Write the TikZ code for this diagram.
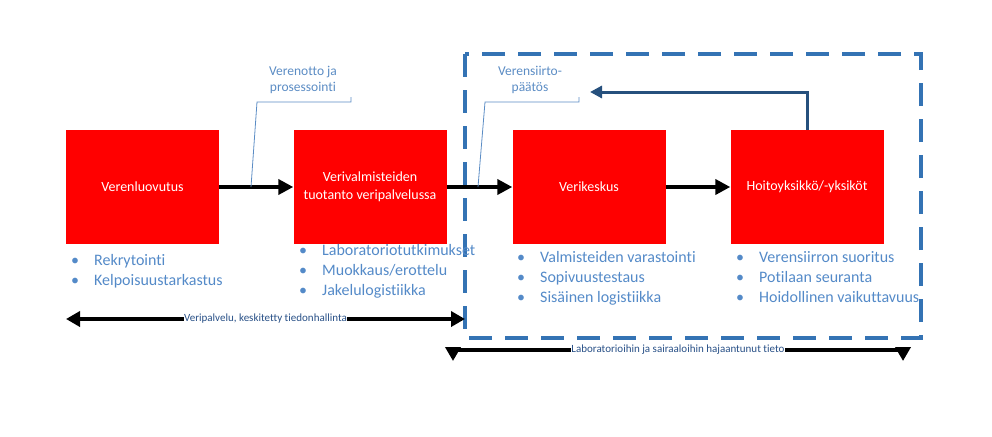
\documentclass[tikz,border=0pt]{standalone}
\usepackage{fontspec}
\setmainfont{Carlito}[Ligatures={NoCommon}]
\usetikzlibrary{arrows.meta}
\definecolor{boxred}{RGB}{255,0,0}
\definecolor{listblue}{RGB}{84,138,200}
\definecolor{calloutblue}{RGB}{91,140,196}
\definecolor{dashblue}{RGB}{52,115,180}
\definecolor{fbblue}{RGB}{38,80,125}
\definecolor{lblblue}{RGB}{40,80,135}
\tikzset{
  box/.style={fill=boxred, draw=none, minimum width=153pt, minimum height=114pt,
    text=white, align=center, font=\fontsize{14}{18}\selectfont, inner sep=0pt},
  flow/.style={line width=4pt, -{Triangle[length=15pt,width=15pt]}},
  callline/.style={draw=calloutblue, line width=0.8pt},
  calltext/.style={text=calloutblue, align=center, font=\fontsize{13.5}{16}\selectfont, inner sep=0pt},
  listnode/.style={anchor=north west, text=listblue, inner sep=0pt,
    font=\fontsize{16}{19.8}\selectfont},
  dbl/.style={line width=4pt, {Triangle[length=14pt,width=15pt]}-{Triangle[length=14pt,width=15pt]}},
  lbl/.style={fill=white, text=lblblue, inner sep=0.5pt, font=\fontsize{11}{12}\selectfont},
  dashbox/.style={draw=dashblue, line width=3.5pt, dash pattern=on 23pt off 13pt},
  fb/.style={draw=fbblue, line width=3pt, -{Triangle[length=12pt,width=12pt]}}
}
\newcommand{\mybul}{{\color{listblue}\textbullet}}
\begin{document}
\begin{tikzpicture}[x=1pt,y=-1pt]
\useasboundingbox (0,0) rectangle (992,436);

% boxes
\node[box] (b1) at (142.5,187) {Verenluovutus};
\node[box] (b2) at (370,187) {Verivalmisteiden\\tuotanto veripalvelussa};
\node[box] (b3) at (589,187) {Verikeskus};
\node[box] (b4) at (807,187) {Hoitoyksikkö/-yksiköt};

% flow arrows
\draw[flow] (b1.east) -- (b2.west);
\draw[flow] (b2.east) -- (b3.west);
\draw[flow] (b3.east) -- (b4.west);

% callouts
\node[calltext] (c1) at (303,80) {Verenotto ja\\prosessointi};
\coordinate (c1a) at (251,187);
\coordinate (c1b) at (257,102);
\coordinate (c1c) at (351,102);
\coordinate (c1d) at (351,97);
\draw[callline] (c1a) -- (c1b) -- (c1c) -- (c1d);

\node[calltext] (c2) at (530,80) {Verensiirto-\\päätös};
\coordinate (c2a) at (478,187);
\coordinate (c2b) at (485,102);
\coordinate (c2c) at (579,102);
\coordinate (c2d) at (579,97);
\draw[callline] (c2a) -- (c2b) -- (c2c) -- (c2d);

% feedback arrow
\coordinate (fbend) at (590,92);
\draw[fb] (b4.north) |- (fbend);

% dashed region
\coordinate (dA) at (465,54);
\coordinate (dB) at (921,338);
\draw[dashbox] (dA) rectangle (dB);

% lists
\node[listnode] (l1) at (71,251.5) {\begin{tabular}{@{}l@{\hspace{15pt}}l@{}}\mybul & Rekrytointi\\ \mybul & Kelpoisuustarkastus\end{tabular}};
\node[listnode] (l2) at (299,241.5) {\begin{tabular}{@{}l@{\hspace{15pt}}l@{}}\mybul & Laboratoriotutkimukset\\ \mybul & Muokkaus/erottelu\\ \mybul & Jakelulogistiikka\end{tabular}};
\node[listnode] (l3) at (517,248.5) {\begin{tabular}{@{}l@{\hspace{15pt}}l@{}}\mybul & Valmisteiden varastointi\\ \mybul & Sopivuustestaus\\ \mybul & Sisäinen logistiikka\end{tabular}};
\node[listnode] (l4) at (736,248.5) {\begin{tabular}{@{}l@{\hspace{15pt}}l@{}}\mybul & Verensiirron suoritus\\ \mybul & Potilaan seuranta\\ \mybul & Hoidollinen vaikuttavuus\end{tabular}};

% bottom double arrows
\coordinate (d1) at (66,319);
\coordinate (d2) at (465,319);
\draw[dbl] (d1) -- node[lbl] (t1) {Veripalvelu, keskitetty tiedonhallinta} (d2);

\coordinate (e1) at (453,361);
\coordinate (e1b) at (453,350);
\coordinate (e2b) at (903,350);
\coordinate (e2) at (903,361);
\draw[dbl] (e1) -- (e1b) -- node[lbl] (t2) {Laboratorioihin ja sairaaloihin hajaantunut tieto} (e2b) -- (e2);
\end{tikzpicture}
\end{document}
